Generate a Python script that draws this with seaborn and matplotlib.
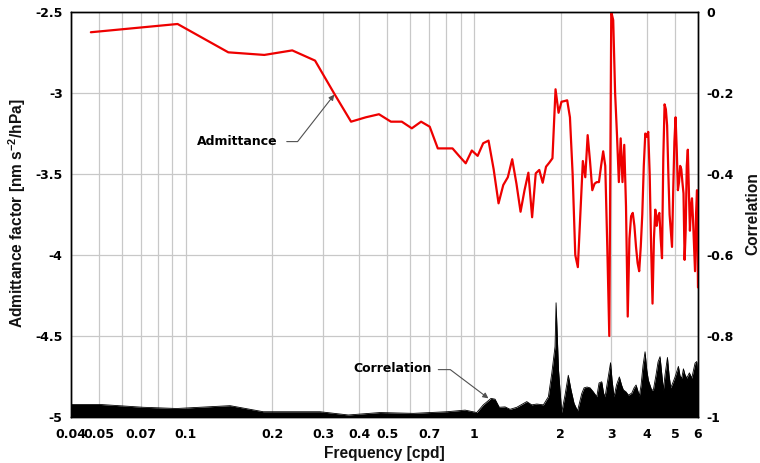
import numpy as np
import pandas as pd
import matplotlib
matplotlib.use("Agg")
import matplotlib.pyplot as plt
from matplotlib.ticker import FixedLocator, FixedFormatter, NullFormatter
import seaborn as sns

# Spectral bins (cpd): 128 bins of 0.046875 cpd up to 6 cpd
bin_width = 0.046875
freq = np.arange(1, 129) * bin_width

# Admittance factor [nm s^-2/hPa] per spectral bin
admittance = [
    -2.625, -2.574, -2.749, -2.765, -2.737, -2.800, -3.005, -3.177, -3.150, -3.131,
    -3.177, -3.177, -3.218, -3.177, -3.208, -3.342, -3.342, -3.342, -3.390, -3.434,
    -3.355, -3.388, -3.310, -3.294, -3.470, -3.681, -3.568, -3.520, -3.409, -3.560,
    -3.733, -3.600, -3.492, -3.767, -3.496, -3.475, -3.554, -3.455, -3.430, -3.403,
    -2.977, -3.122, -3.054, -3.050, -3.045, -3.150, -3.500, -4.000, -4.075, -3.750,
    -3.420, -3.520, -3.260, -3.420, -3.600, -3.560, -3.550, -3.550, -3.450, -3.360,
    -3.450, -3.950, -4.500, -2.500, -2.550, -3.000, -3.260, -3.550, -3.280, -3.550,
    -3.320, -3.700, -4.380, -3.900, -3.760, -3.740, -3.820, -3.950, -4.050, -4.100,
    -3.950, -3.750, -3.450, -3.250, -3.270, -3.240, -3.500, -3.950, -4.300, -3.900,
    -3.720, -3.820, -3.760, -3.740, -3.900, -4.020, -3.400, -3.070, -3.100, -3.200,
    -3.500, -3.750, -3.850, -3.950, -3.600, -3.300, -3.150, -3.350, -3.600, -3.550,
    -3.450, -3.470, -3.550, -3.620, -4.030, -3.850, -3.450, -3.350, -3.600, -3.850,
    -3.700, -3.650, -3.780, -3.950, -4.100, -3.750, -3.600, -4.200,
]

# Correlation spectrum (frequency in cpd, correlation)
corr_freq = [
    0.040, 0.0504, 0.0713, 0.0931, 0.1426, 0.186, 0.2926, 0.367, 0.4725, 0.617,
    0.806, 0.933, 1.024, 1.079, 1.148, 1.185, 1.226, 1.284, 1.336, 1.41,
    1.527, 1.589, 1.654, 1.744, 1.815, 1.865, 1.914, 1.93, 1.968, 2.019,
    2.073, 2.128, 2.175, 2.228, 2.291, 2.37, 2.414, 2.472, 2.532, 2.60,
    2.672, 2.721, 2.78, 2.821, 2.855, 2.924, 2.983, 3.019, 3.067, 3.129,
    3.20, 3.257, 3.304, 3.376, 3.44, 3.534, 3.60, 3.658, 3.756, 3.807,
    3.868, 3.93, 3.984, 4.035, 4.14, 4.20, 4.29, 4.36, 4.43, 4.485,
    4.55, 4.61, 4.70, 4.76, 4.825, 4.916, 4.995, 5.13, 5.20, 5.27,
    5.34, 5.41, 5.485, 5.60, 5.71, 5.79, 5.86, 5.94, 6.00,
]
correlation = [
    -0.969, -0.969, -0.976, -0.979, -0.972, -0.987, -0.987, -0.995, -0.989, -0.991,
    -0.987, -0.983, -0.989, -0.970, -0.954, -0.956, -0.976, -0.975, -0.981, -0.976,
    -0.962, -0.970, -0.968, -0.970, -0.950, -0.892, -0.826, -0.718, -0.884, -0.989,
    -0.946, -0.897, -0.933, -0.966, -0.985, -0.942, -0.928, -0.926, -0.928, -0.938,
    -0.950, -0.916, -0.913, -0.941, -0.950, -0.904, -0.866, -0.909, -0.950, -0.921,
    -0.901, -0.921, -0.933, -0.938, -0.946, -0.941, -0.928, -0.921, -0.948, -0.921,
    -0.872, -0.839, -0.884, -0.909, -0.933, -0.933, -0.896, -0.864, -0.851, -0.889,
    -0.933, -0.896, -0.853, -0.896, -0.928, -0.914, -0.901, -0.875, -0.899, -0.904,
    -0.881, -0.896, -0.904, -0.891, -0.904, -0.884, -0.867, -0.863, -0.899,
]

x_ticks = [0.04, 0.05, 0.07, 0.1, 0.2, 0.3, 0.4, 0.5, 0.7, 1, 2, 3, 4, 5, 6]
x_tick_labels = ["0.04", "0.05", "0.07", "0.1", "0.2", "0.3", "0.4", "0.5",
                 "0.7", "1", "2", "3", "4", "5", "6"]
x_minor = [0.06, 0.08, 0.09, 0.6, 0.8, 0.9]
left_ticks = [-5, -4.5, -4, -3.5, -3, -2.5]
left_tick_labels = ["-5", "-4.5", "-4", "-3.5", "-3", "-2.5"]
right_ticks = [-1, -0.8, -0.6, -0.4, -0.2, 0]
right_tick_labels = ["-1", "-0.8", "-0.6", "-0.4", "-0.2", "0"]

sns.set_theme(style="white")
plt.rcParams["font.family"] = ["DejaVu Sans"]
plt.rcParams["mathtext.fontset"] = "custom"
plt.rcParams["mathtext.rm"] = "Liberation Sans:bold"
plt.rcParams["mathtext.default"] = "rm"

adm_df = pd.DataFrame({"freq": freq, "admittance": admittance})
corr_df = pd.DataFrame({"freq": corr_freq, "correlation": correlation})

fig = plt.figure(figsize=(7.6, 4.63), dpi=100)
ax = fig.add_axes([71 / 760, 1 - 417 / 463, 627 / 760, 405 / 463])
ax.set_xscale("log")
ax.set_xlim(0.04, 6)
ax.set_ylim(-5, -2.5)

grid_kw = dict(color="#c8c8c8", linewidth=0.9)
ax.xaxis.set_major_locator(FixedLocator(x_ticks))
ax.xaxis.set_major_formatter(FixedFormatter(x_tick_labels))
ax.xaxis.set_minor_locator(FixedLocator(x_minor))
ax.xaxis.set_minor_formatter(NullFormatter())
ax.yaxis.set_major_locator(FixedLocator(left_ticks))
ax.yaxis.set_major_formatter(FixedFormatter(left_tick_labels))
ax.grid(True, which="both", axis="x", **grid_kw)
ax.grid(True, which="major", axis="y", **grid_kw)
ax.set_axisbelow(True)

sns.lineplot(data=adm_df, x="freq", y="admittance", ax=ax, color="#ee0000",
             linewidth=1.6, zorder=3)

ax2 = ax.twinx()
ax2.set_ylim(-1, 0)
ax2.fill_between(corr_df["freq"], -1, corr_df["correlation"], color="black",
                 linewidth=0, zorder=2)
sns.lineplot(data=corr_df, x="freq", y="correlation", ax=ax2, color="black",
             linewidth=0.6, zorder=2)
ax2.yaxis.set_major_locator(FixedLocator(right_ticks))
ax2.yaxis.set_major_formatter(FixedFormatter(right_tick_labels))
ax2.set_xlim(0.04, 6)

for a in (ax, ax2):
    a.set_xlabel("")
    a.set_ylabel("")
    for s in a.spines.values():
        s.set_color("black")
        s.set_linewidth(1.0)
    a.tick_params(which="both", length=0)

tick_font = dict(fontsize=9, fontweight="bold", color="black")
for lbl in ax.get_xticklabels() + ax.get_yticklabels() + ax2.get_yticklabels():
    lbl.set_fontsize(9)
    lbl.set_fontweight("bold")
    lbl.set_color("black")
ax.tick_params(axis="x", pad=8)
ax.tick_params(axis="y", pad=6)
ax2.tick_params(axis="y", pad=6)

label_kw = dict(fontsize=11.2, fontweight="bold", family="Liberation Sans",
                color="#111111", ha="center", va="center")
fig.text(384.5 / 760, 1 - 453.7 / 463, "Frequency [cpd]", **label_kw)
fig.text(17.5 / 760, 1 - 213.5 / 463, "Admittance factor [nm s$^{-2}$/hPa]",
         rotation=90, **label_kw)
fig.text(753 / 760, 1 - 213.5 / 463, "Correlation", rotation=90, **label_kw)

arrow_kw = dict(arrowstyle="-|>", color="#505050", lw=0.8, mutation_scale=8,
                shrinkA=0, shrinkB=0)
ax.text(0.209, -3.30, "Admittance", ha="right", va="center", **tick_font)
ax.annotate("", xy=(0.328, -3.01), xytext=(0.2243, -3.30),
            arrowprops=dict(connectionstyle="angle,angleA=0,angleB=52,rad=0",
                            **arrow_kw))
ax2.text(0.715, -0.88, "Correlation", ha="right", va="center", **tick_font)
ax2.annotate("", xy=(1.124, -0.954), xytext=(0.753, -0.883),
             arrowprops=dict(connectionstyle="angle,angleA=0,angleB=-37,rad=0",
                             **arrow_kw))

fig.savefig("out.png", dpi=100)
